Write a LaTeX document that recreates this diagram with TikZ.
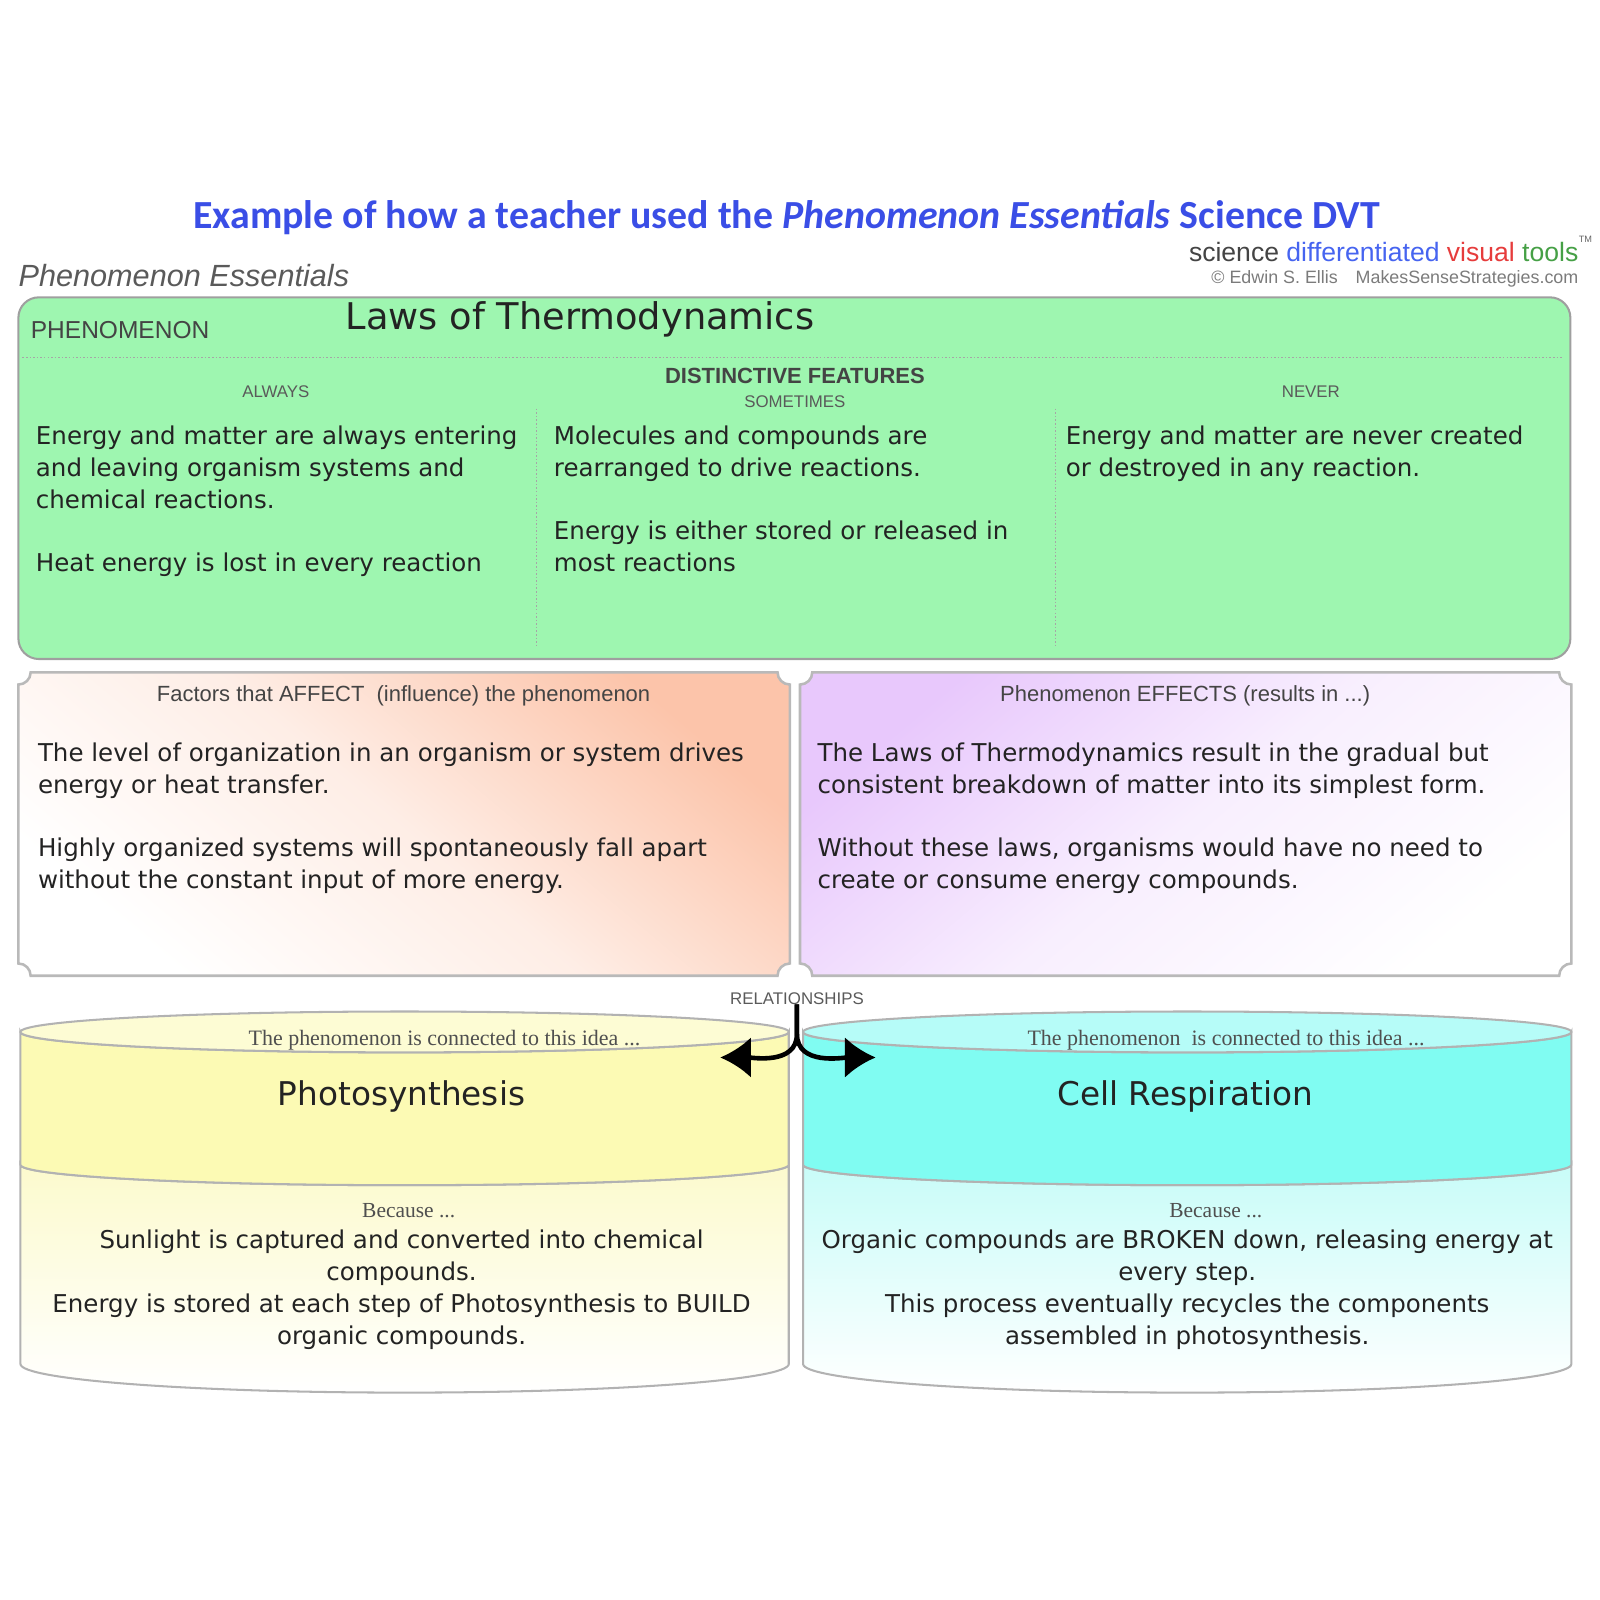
\documentclass[tikz,border=0pt]{standalone}
\usepackage{fontspec}
\setmainfont{DejaVu Sans}
\newfontfamily\headfont{Carlito}
\newfontfamily\formfont{Liberation Sans}
\newfontfamily\romanfont{Liberation Serif}
\usetikzlibrary{arrows.meta}
\definecolor{ink}{RGB}{35,35,35}
\definecolor{titleblue}{RGB}{58,78,230}
\definecolor{dvtblue}{RGB}{70,100,240}
\definecolor{dvtred}{RGB}{230,60,60}
\definecolor{dvtgreen}{RGB}{70,160,70}
\definecolor{mint}{RGB}{158,246,176}
\definecolor{peach}{RGB}{252,196,170}
\definecolor{lilac}{RGB}{232,200,252}
\definecolor{sun}{RGB}{252,250,180}
\definecolor{sunlid}{RGB}{253,252,212}
\definecolor{sunlow}{RGB}{252,250,205}
\definecolor{sea}{RGB}{128,252,242}
\definecolor{sealid}{RGB}{182,252,248}
\definecolor{sealow}{RGB}{200,252,248}

\begin{document}
\begin{tikzpicture}[x=1pt, y=1pt,
    body/.style = {inner sep=0pt, anchor=north west, align=left, text=ink,
        font=\fontsize{24}{31}\selectfont},
    cbody/.style = {body, anchor=north, align=center},
    idea/.style = {inner sep=0pt, text=ink, font=\fontsize{32}{36}\selectfont},
    tag/.style = {inner sep=0pt, text=ink!75, font=\formfont\fontsize{16.5}{18}\selectfont},
    head/.style = {inner sep=0pt, text=ink!85, font=\formfont\fontsize{21.5}{24}\selectfont},
    note/.style = {inner sep=0pt, text=ink!80, font=\romanfont\fontsize{21.5}{24}\selectfont},
    rule/.style = {dotted, gray!70, line width=1.5pt},
    card/.style = {draw=gray!55, line width=2.5pt},
    drum/.style = {draw=gray!60, line width=2pt},
    link/.style = {line width=4.5pt, -{Latex[length=30pt,width=40pt]}}
  ]
  \useasboundingbox (0,0) rectangle (1566,-1566);

  % header
  \node[inner sep=0pt, text=titleblue, font=\headfont\bfseries\fontsize{39}{44}\selectfont]
    (title) at (770,-213) {Example of how a teacher used the \textit{Phenomenon Essentials} Science DVT};
  \node[anchor=east, inner sep=0pt, font=\formfont\fontsize{26}{28}\selectfont] (dvt) at (1545,-247)
    {\textcolor{ink!85}{science} \textcolor{dvtblue}{differentiated} \textcolor{dvtred}{visual} \textcolor{dvtgreen}{tools}};
  \node[anchor=south west, inner sep=0pt, text=ink!70, font=\formfont\fontsize{9}{10}\selectfont] (tm) at (dvt.north east) {TM};
  \node[anchor=east, inner sep=0pt, text=ink!60, font=\formfont\fontsize{17.5}{19}\selectfont] (credit) at (1545,-273)
    {© Edwin S. Ellis\quad MakesSenseStrategies.com};
  \node[anchor=west, inner sep=0pt, text=ink!75, font=\formfont\itshape\fontsize{30}{32}\selectfont] (form) at (18,-270)
    {Phenomenon Essentials};

  % phenomenon and distinctive features
  \draw[fill=mint, draw=gray!75, line width=2pt, rounded corners=20pt] (18,-291) rectangle (1537,-645);
  \draw[rule] (22,-350) -- (1530,-350);
  \foreach \x in {525,1033}
    \draw[rule] (\x,-400) -- (\x,-632);

  \node[head, anchor=west, font=\formfont\fontsize{24}{26}\selectfont] (phen) at (30,-323) {PHENOMENON};
  \node[idea, anchor=west, font=\fontsize{36}{40}\selectfont] (law) at (338,-313) {Laws of Thermodynamics};
  \node[head, font=\formfont\bfseries\fontsize{21.5}{24}\selectfont] (dist) at (778,-368) {DISTINCTIVE FEATURES};
  \node[tag] (always) at (270,-383) {ALWAYS};
  \node[tag] (sometimes) at (778,-393) {SOMETIMES};
  \node[tag] (never) at (1283,-383) {NEVER};

  \node[body] (always text) at (35,-417) {Energy and matter are always entering\\and leaving organism systems and\\chemical reactions.\\[31pt]Heat energy is lost in every reaction};
  \node[body] (sometimes text) at (542,-417) {Molecules and compounds are\\rearranged to drive reactions.\\[31pt]Energy is either stored or released in\\most reactions};
  \node[body] (never text) at (1043,-417) {Energy and matter are never created\\or destroyed in any reaction.};

  % affect / effects
  \foreach \L/\R/\c/\a in {18/773/peach/-40, 783/1538/lilac/40}
    \path[card, top color=\c, bottom color=white, middle color=\c!30!white, shading angle=\a]
      (\L+12,-658) -- (\R-12,-658) .. controls +(0,-6.6) and +(-6.6,0) .. (\R,-670)
      -- (\R,-943) .. controls +(-6.6,0) and +(0,6.6) .. (\R-12,-955)
      -- (\L+12,-955) .. controls +(0,6.6) and +(6.6,0) .. (\L,-943)
      -- (\L,-670) .. controls +(6.6,0) and +(0,-6.6) .. cycle;

  \node[head] (affect) at (395,-681) {Factors that AFFECT\ \ (influence) the phenomenon};
  \node[head] (effects) at (1160,-681) {Phenomenon EFFECTS (results in ...)};
  \node[body] (affect text) at (37,-727) {The level of organization in an organism or system drives\\energy or heat transfer.\\[31pt]Highly organized systems will spontaneously fall apart\\without the constant input of more energy.};
  \node[body] (effects text) at (800,-727) {The Laws of Thermodynamics result in the gradual but\\consistent breakdown of matter into its simplest form.\\[31pt]Without these laws, organisms would have no need to\\create or consume energy compounds.};

  % relationships
  \foreach \L/\R/\up/\lid/\low in {20/772/sun/sunlid/sunlow, 786/1538/sea/sealid/sealow} {
    \path[drum, top color=\low, bottom color=white]
      (\L,-1140) -- (\L,-1335) arc[start angle=180, end angle=360, x radius=376, y radius=28]
      -- (\R,-1140) arc[start angle=0, end angle=-180, x radius=376, y radius=20] -- cycle;
    \path[drum, fill=\up]
      (\L,-1010) -- (\L,-1140) arc[start angle=180, end angle=360, x radius=376, y radius=20]
      -- (\R,-1010) arc[start angle=0, end angle=-180, x radius=376, y radius=20] -- cycle;
    \path[drum, fill=\lid] ({(\L+\R)/2},-1010) ellipse[x radius=376, y radius=20];
  }

  \node[note] (ps idea) at (435,-1018) {The phenomenon is connected to this idea ...};
  \node[idea] (ps) at (393,-1073) {Photosynthesis};
  \node[note, font=\romanfont\fontsize{21}{24}\selectfont] (ps because) at (400,-1185) {Because ...};
  \node[cbody] (ps text) at (393,-1204) {Sunlight is captured and converted into chemical\\compounds.\\Energy is stored at each step of Photosynthesis to BUILD\\organic compounds.};

  \node[note] (cr idea) at (1200,-1018) {The phenomenon\ \ is connected to this idea ...};
  \node[idea] (cr) at (1160,-1073) {Cell Respiration};
  \node[note, font=\romanfont\fontsize{21}{24}\selectfont] (cr because) at (1190,-1185) {Because ...};
  \node[cbody] (cr text) at (1162,-1204) {Organic compounds are BROKEN down, releasing energy at\\every step.\\This process eventually recycles the components\\assembled in photosynthesis.};

  \node[tag] (rel) at (780,-977) {RELATIONSHIPS};
  \coordinate (fork) at (780,-1012);
  \coordinate (ps tip) at (705,-1035);
  \coordinate (cr tip) at (857,-1035);
  \draw[link] (rel.south) -- (fork) to[out=-90, in=0] (ps tip);
  \draw[link] (rel.south) -- (fork) to[out=-90, in=180] (cr tip);
\end{tikzpicture}
\end{document}
